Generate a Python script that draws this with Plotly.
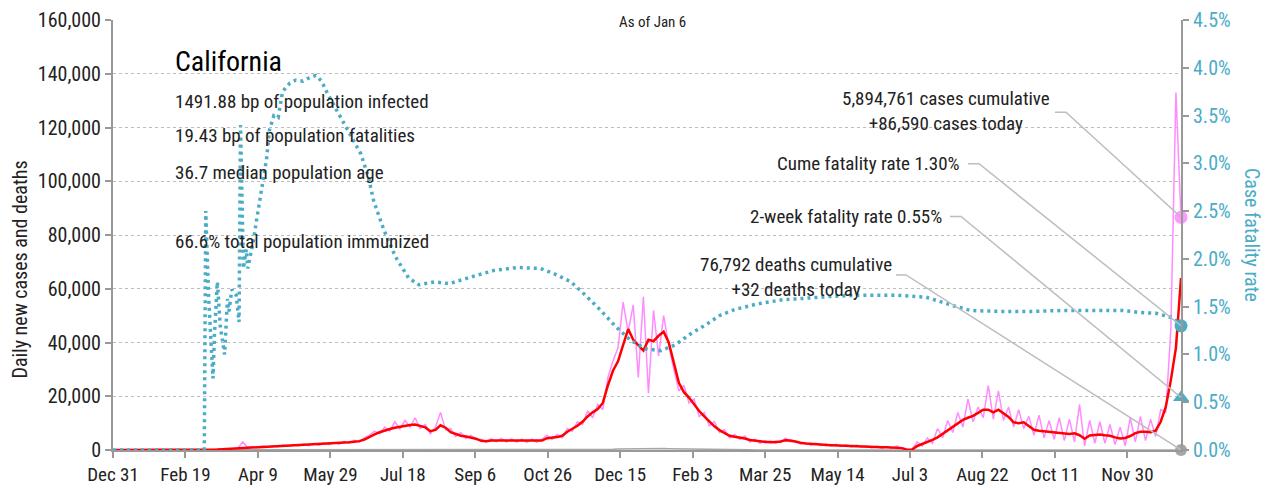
import pandas as pd
import plotly.graph_objects as go

# daily new cases (84-hour steps ending Jan 6 2022)
cases_daily = [0] * 19 + [
    100, 300, 200, 500, 400, 600, 3000, 900, 1300, 1000, 1500, 1100, 1600, 1200, 1800,
    1400, 2000, 1500, 2200, 1600, 2400, 1800, 2600, 2000, 2800, 2200, 3200, 2500, 3600, 2900,
    4500, 5500, 7000, 6000, 8500, 7000, 10500, 7800, 11000, 8500, 12000, 8000, 9500, 6000,
    8500, 14000, 7500, 8000, 5000, 6500, 4300, 5500, 3800, 4000, 3000, 4200, 3000, 4300,
    2900, 4100, 2900, 4000, 2800, 4000, 2800, 4000, 5500, 3900, 5800, 4600,
    8000, 7000, 10500, 9500, 14500, 12000, 17000, 15000, 27000, 33000, 38000, 55000, 44000,
    54000, 27000, 57000, 21000, 52000, 35000, 50000, 39000, 30000, 22000, 24000, 17500,
    19000, 12500, 14000, 9000, 10500, 6500, 7500, 4500, 5800, 4000, 5200, 3000, 4000, 2500,
    3500, 2500, 3300,
    2700, 4400, 3000, 3400, 2200, 2800, 1800, 2500, 1600, 2300, 1500, 2100, 1300, 1900,
    1100, 1800, 1000, 1500, 800, 1400, 700, 1300, 600, 1500, 300, 0, 400,
    3000, 1500, 4500, 2500, 8000, 4500, 11000, 6500, 14000, 8500, 19000, 10500, 16000,
    12000, 24000, 11500, 22000, 11000, 16000, 8500, 15000, 8000, 12500, 5500, 13000, 4500,
    11000, 4000, 12000, 3500, 11500, 3000, 17000, 1500, 11000, 2500, 10500, 2500, 9500,
    2000, 8500, 1500, 12000, 3000, 12500, 3500, 11500, 5000, 15000, 14000, 45000, 133000,
    86590,
]

# 7-day average of new cases, same steps
cases_avg = [0] * 19 + [
    100, 200, 300, 400, 500, 500, 700, 900, 1000, 1100, 1200, 1300, 1300, 1400, 1500,
    1600, 1700, 1700, 1800, 1900, 2000, 2100, 2200, 2300, 2400, 2500, 2700, 2900, 3100, 3300,
    3900, 5000, 5800, 6600, 7300, 7800, 8300, 8700, 9000, 9300, 9500, 9000, 8400, 7000,
    7500, 9200, 8300, 6600, 5800, 5300, 5000, 4700, 4200, 3400, 3300, 3500, 3500, 3500,
    3400, 3400, 3400, 3300, 3300, 3400, 3300, 3500, 4400, 4500, 4800, 5300,
    6800, 7900, 9000, 10500, 12500, 14000, 15200, 17500, 24000, 29500, 33000, 39000, 45000,
    41000, 39000, 37000, 41000, 40500, 42500, 44000, 40000, 33000, 25000, 21500, 19500,
    17000, 14500, 12500, 10500, 8800, 7400, 6300, 5300, 4900, 4600, 4300, 3700, 3400, 3100,
    3000, 3000, 2900,
    3200, 3600, 3500, 3000, 2700, 2400, 2200, 2100, 2000, 1900, 1800, 1700, 1600, 1500,
    1500, 1400, 1300, 1200, 1100, 1100, 1000, 1000, 900, 1000, 700, 100, 200,
    1500, 2200, 2900, 3800, 4700, 6000, 7500, 8800, 9800, 11200, 12000, 12700, 13800,
    15000, 15000, 14000, 15000, 13500, 12300, 10300, 10000, 10300, 9000, 7500, 7200, 7000,
    6800, 6500, 6200, 6000, 6000, 6200, 5500, 4200, 5400, 5600, 5800, 5500, 5300, 4700,
    4300, 4500, 5200, 6300, 6800, 6800, 6600, 7200, 10500, 16000, 26000, 38000, 64000,
]

# daily deaths, same steps
deaths_daily = [0] * 19 + [
    0, 1, 2, 5, 10, 20,
    40, 50, 60, 70, 75, 80, 85, 85, 80, 75, 75, 75, 70, 70, 65, 65, 60, 60, 60, 65, 70, 75, 85, 95,
    100, 110, 120, 125, 130, 135, 135, 130, 125, 120, 115, 110, 100, 95, 90, 85, 80, 75, 70, 65, 60, 55,
    50, 50, 50, 50, 50, 50, 50, 50, 50, 50, 50, 50, 50, 50, 50, 55, 60, 65, 70,
    80, 90, 100, 120, 140, 170, 200, 240, 280, 330, 380,
    430, 480, 520, 560, 560, 600, 580, 520, 480, 440, 400, 360, 300, 250, 200,
    170, 140, 120, 100, 90, 80, 70, 60, 55, 50, 45, 40, 40, 35, 35, 30, 30, 30, 30, 28,
    25, 25, 25, 24, 24, 24, 23, 23, 22, 22, 22, 20, 20, 20, 20, 20, 18, 18, 18, 15, 15, 15,
    20, 25, 30, 35, 40, 50, 60, 70, 80, 90, 100, 105, 110, 110, 110, 105, 100, 95,
    90, 85, 80, 75, 70, 65, 60, 55, 50, 45, 40, 40, 38, 36,
    35, 35, 35, 35, 35, 35, 35, 35, 35, 35, 35, 35, 35, 35, 35, 35, 35, 35, 35, 35, 32,
]

# cumulative case fatality rate (%)
cfr_dates = [
    '2019-12-31', '2020-03-03', '2020-03-04', '2020-03-06', '2020-03-09', '2020-03-10',
    '2020-03-12', '2020-03-14', '2020-03-17', '2020-03-19', '2020-03-20', '2020-03-22',
    '2020-03-25', '2020-03-27', '2020-03-28', '2020-03-30', '2020-04-01', '2020-04-02',
    '2020-04-04', '2020-04-06', '2020-04-08', '2020-04-10', '2020-04-12', '2020-04-15',
    '2020-04-17', '2020-04-20', '2020-04-23', '2020-04-26', '2020-05-01', '2020-05-05',
    '2020-05-10', '2020-05-15', '2020-05-19', '2020-05-23', '2020-05-27', '2020-05-31',
    '2020-06-05', '2020-06-12', '2020-06-19', '2020-06-24', '2020-06-28', '2020-07-05',
    '2020-07-13', '2020-07-22', '2020-07-29', '2020-08-09', '2020-08-19', '2020-09-03',
    '2020-09-19', '2020-10-05', '2020-10-21', '2020-10-31', '2020-11-11', '2020-11-21',
    '2020-12-01', '2020-12-12', '2020-12-22', '2021-01-01', '2021-01-12', '2021-01-22',
    '2021-02-01', '2021-02-12', '2021-02-22', '2021-03-04', '2021-03-20', '2021-04-05',
    '2021-04-21', '2021-05-12', '2021-06-02', '2021-06-23', '2021-07-14', '2021-07-24',
    '2021-08-04', '2021-08-14', '2021-09-04', '2021-09-25', '2021-10-16', '2021-11-06',
    '2021-11-27', '2021-12-08', '2021-12-20', '2022-01-01', '2022-01-06',
]
cfr_vals = [
    0, 0, 2.5, 1.6, 0.75, 1.2,
    1.76, 1.3, 1.0, 1.58, 1.45, 1.68,
    1.62, 1.34, 3.4, 1.9, 2.1, 1.9,
    2.05, 2.2, 2.4, 2.6, 2.75, 3.05,
    3.35, 3.5, 3.48, 3.75, 3.84, 3.87,
    3.86, 3.9, 3.92, 3.86, 3.73, 3.62,
    3.5, 3.3, 3.1, 2.87, 2.6, 2.3,
    2.02, 1.8, 1.73, 1.76, 1.74, 1.81,
    1.88, 1.91, 1.9, 1.84, 1.76, 1.62,
    1.47, 1.29, 1.15, 1.06, 1.04, 1.10,
    1.21, 1.31, 1.41, 1.47, 1.53, 1.57,
    1.59, 1.61, 1.62, 1.62, 1.60, 1.55,
    1.50, 1.46, 1.45, 1.45, 1.46, 1.46,
    1.46, 1.44, 1.43, 1.38, 1.30,
]

two_week_cfr = 0.55
cum_cases = 5894761
cum_deaths = 76792

info_lines = [
    '1491.88 bp of population infected',
    '19.43 bp of population fatalities',
    '36.7 median population age',
    '66.6% total population immunized',
]

tick_dates = ['2019-12-31', '2020-02-19', '2020-04-09', '2020-05-29', '2020-07-18',
              '2020-09-06', '2020-10-26', '2020-12-15', '2021-02-03', '2021-03-25',
              '2021-05-14', '2021-07-03', '2021-08-22', '2021-10-11', '2021-11-30']
tick_text = ['Dec 31', 'Feb 19', 'Apr 9', 'May 29', 'Jul 18', 'Sep 6', 'Oct 26', 'Dec 15',
             'Feb 3', 'Mar 25', 'May 14', 'Jul 3', 'Aug 22', 'Oct 11', 'Nov 30']

last_day = '2022-01-06'


def grid(values):
    return pd.date_range(end=last_day, periods=len(values), freq='84h')


FONT = 'Roboto Condensed, Liberation Sans, sans-serif'
PINK = '#ff8cff'
TEAL = '#4bacc6'
GREY = '#a6a6a6'
TXT = '#222222'

fig = go.Figure()
fig.add_trace(go.Scatter(x=grid(deaths_daily), y=deaths_daily, mode='lines',
                         line=dict(color=GREY, width=1.5), name='deaths'))
fig.add_trace(go.Scatter(x=grid(cases_daily), y=cases_daily, mode='lines',
                         line=dict(color=PINK, width=1.5), name='cases'))
fig.add_trace(go.Scatter(x=grid(cases_avg), y=cases_avg, mode='lines',
                         line=dict(color='#ff0000', width=2.5), name='7-day avg'))
fig.add_trace(go.Scatter(x=cfr_dates, y=cfr_vals, mode='lines', yaxis='y2',
                         line=dict(color=TEAL, width=3.5, dash='3px,4px'), name='CFR'))

# end-point markers
fig.add_trace(go.Scatter(x=[last_day], y=[cases_daily[-1]], mode='markers', cliponaxis=False,
                         marker=dict(color='#ff99ff', size=13)))
fig.add_trace(go.Scatter(x=[last_day], y=[deaths_daily[-1]], mode='markers', cliponaxis=False,
                         marker=dict(color=GREY, size=12)))
fig.add_trace(go.Scatter(x=[last_day], y=[cfr_vals[-1]], mode='markers', yaxis='y2',
                         cliponaxis=False, marker=dict(color=TEAL, size=13)))
fig.add_trace(go.Scatter(x=[last_day], y=[two_week_cfr], mode='markers', yaxis='y2',
                         cliponaxis=False, marker=dict(color=TEAL, size=14, symbol='triangle-up')))

annotations = [
    dict(text='California', x=0.056, y=0.904, font=dict(size=28, family=FONT, color='#000')),
]
for txt, yy in zip(info_lines, [0.811, 0.731, 0.645, 0.484]):
    annotations.append(dict(text=txt, x=0.056, y=yy, font=dict(size=19, family=FONT, color=TXT)))
for a in annotations:
    a.update(xref='paper', yref='paper', xanchor='left', yanchor='middle', showarrow=False)

annotations += [
    dict(text='As of Jan 6', x=0.505, y=0.995, xanchor='center',
         font=dict(size=15, family=FONT, color=TXT)),
    dict(text=f'{cum_cases:,} cases cumulative<br>+{cases_daily[-1]:,} cases today',
         x=0.780, y=0.788, xanchor='center', align='center',
         font=dict(size=19, family=FONT, color=TXT)),
    dict(text=f'Cume fatality rate {cfr_vals[-1]:.2f}%', x=0.795, y=0.667, xanchor='right',
         font=dict(size=19, family=FONT, color=TXT)),
    dict(text=f'2-week fatality rate {two_week_cfr:.2f}%', x=0.778, y=0.544, xanchor='right',
         font=dict(size=19, family=FONT, color=TXT)),
    dict(text=f'{cum_deaths:,} deaths cumulative<br>+{deaths_daily[-1]} deaths today',
         x=0.6395, y=0.402, xanchor='center', align='center',
         font=dict(size=19, family=FONT, color=TXT)),
    dict(text='Daily new cases and deaths', x=-0.087, y=0.42, textangle=-90,
         xanchor='center', font=dict(size=20, family=FONT, color=TXT)),
    dict(text='Case fatality rate', x=1.0665, y=0.5, textangle=90,
         xanchor='center', font=dict(size=20, family=FONT, color=TEAL)),
]
for a in annotations[5:]:
    a.update(xref='paper', yref='paper', yanchor='middle', showarrow=False)

# leader lines: pixel paths anchored on the end-point markers
leaders = [
    ('y', cases_daily[-1], 'M -126,105 L -115,105 L 0,0'),
    ('y2', cfr_vals[-1], 'M -213,162 L -202,162 L 0,0'),
    ('y2', two_week_cfr, 'M -231,181 L -220,181 L 0,0'),
    ('y', deaths_daily[-1], 'M -285,175 L -275,175 L 0,0'),
]
shapes = [dict(type='path', xref='x', yref=yr, xsizemode='pixel', ysizemode='pixel',
               xanchor=last_day, yanchor=v, path=p, line=dict(color='#bdbdbd', width=1.5))
          for yr, v, p in leaders]

axis_common = dict(showline=True, linecolor='#999999', linewidth=2, ticks='outside',
                   ticklen=6, tickcolor='#999999', tickwidth=1.5, zeroline=False,
                   automargin=False, ticklabeloverflow='allow')

fig.update_layout(
    width=1271, height=488,
    margin=dict(l=105, r=98, t=12, b=46),
    plot_bgcolor='white', paper_bgcolor='white',
    showlegend=False,
    font=dict(family=FONT, color=TXT),
    annotations=annotations,
    shapes=shapes,
    xaxis=dict(range=['2019-12-31', last_day], tickvals=tick_dates, ticktext=tick_text,
               showgrid=False, tickfont=dict(size=19, family=FONT, color=TXT), **axis_common),
    yaxis=dict(range=[0, 160000], dtick=20000, tickformat=',d',
               showgrid=True, gridcolor='#bdbdbd', griddash='dot', gridwidth=1,
               tickfont=dict(size=20, family=FONT, color=TXT), **axis_common),
    yaxis2=dict(range=[0, 4.5], dtick=0.5, tickformat='.1f', ticksuffix='%',
                overlaying='y', side='right', showgrid=False,
                tickfont=dict(size=20, family=FONT, color=TEAL), **axis_common),
)

fig.write_html('out.html')
